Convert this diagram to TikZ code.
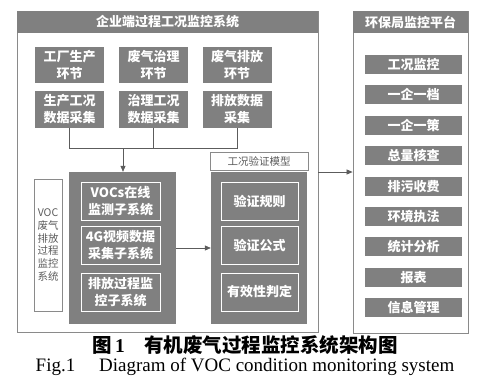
\documentclass[tikz,border=0pt]{standalone}
\usepackage{fontspec}
\setmainfont{Liberation Serif}
\newfontfamily\cjk{Noto Sans CJK SC}
\usetikzlibrary{arrows.meta}
\definecolor{bg}{HTML}{808080}
\definecolor{ln}{HTML}{8A8A8A}
\definecolor{cn}{HTML}{5C5C5C}
\begin{document}
\begin{tikzpicture}[x=1pt,y=-1pt,
  gbox/.style={fill=bg,text=white,font=\cjk\bfseries\fontsize{13}{17}\selectfont,align=center,inner sep=0pt},
  ibox/.style={gbox,draw=white,line width=1pt},
  frame/.style={draw=ln,line width=0.8pt,inner sep=0pt},
  hdr/.style={fill=bg,text=white,font=\cjk\bfseries\fontsize{13}{16}\selectfont,inner sep=0pt},
  item/.style={gbox,minimum width=97pt,minimum height=19pt},
  conn/.style={draw=cn,line width=0.7pt},
  arr/.style={conn,-{Triangle[width=5pt,length=6pt]}}
]
\useasboundingbox (0,0) rectangle (497,383);
% left system
\node[frame,minimum width=301pt,minimum height=321pt] (FL) at (167.5,171.5) {};
\node[hdr,minimum width=301pt,minimum height=22pt] (HL) at (167.5,22) {企业端过程工况监控系统};
\node[gbox,minimum width=69pt,minimum height=36pt] (a1) at (69.5,65) {工厂生产\\环节};
\node[gbox,minimum width=69pt,minimum height=36pt] (a2) at (153.5,65) {废气治理\\环节};
\node[gbox,minimum width=69pt,minimum height=36pt] (a3) at (237,65) {废气排放\\环节};
\node[gbox,minimum width=69pt,minimum height=37pt] (b1) at (69.5,109) {生产工况\\数据采集};
\node[gbox,minimum width=69pt,minimum height=37pt] (b2) at (153.5,109) {治理工况\\数据采集};
\node[gbox,minimum width=69pt,minimum height=37pt] (b3) at (237,109) {排放数据\\采集};
\coordinate (hl) at (0,148);
\coordinate (hj) at (123,148);
\node[fill=bg,minimum width=107pt,minimum height=152pt,inner sep=0pt] (L) at (122.5,248) {};
\node[ibox,minimum width=79pt,minimum height=38pt] (l1) at (120.5,201) {VOCs在线\\监测子系统};
\node[ibox,minimum width=79pt,minimum height=38pt] (l2) at (120.5,245) {4G视频数据\\采集子系统};
\node[ibox,minimum width=79pt,minimum height=38pt] (l3) at (120.5,292) {排放过程监\\控子系统};
\node[fill=bg,minimum width=96pt,minimum height=152pt,inner sep=0pt] (R) at (259,248) {};
\node[ibox,minimum width=77pt,minimum height=38pt] (r1) at (259.5,201) {验证规则};
\node[ibox,minimum width=77pt,minimum height=38pt] (r2) at (259.5,245) {验证公式};
\node[ibox,minimum width=77pt,minimum height=38pt] (r3) at (259.5,292) {有效性判定};
\node[frame,fill=white,minimum width=98pt,minimum height=18pt,text=cn,font=\cjk\fontsize{10.5}{12}\selectfont] (M) at (259,161) {工况验证模型};
\node[frame,minimum width=28pt,minimum height=132pt,align=center,text=cn,font=\cjk\fontsize{10.5}{12.7}\selectfont] (V) at (48,245) {VOC\\废气\\排放\\过程\\监控\\系统};
\draw[conn] (b1.south) -- (b1.south |- hl) -- (b3.south |- hl) -- (b3.south);
\draw[conn] (b2.south) -- (b2.south |- hl);
\draw[arr] (hj) -- (hj |- L.north);
\draw[arr] (L.east) -- (R.west);
% right platform
\node[frame,minimum width=115pt,minimum height=322pt] (FR) at (410.5,172) {};
\node[hdr,minimum width=115pt,minimum height=22pt] (HR) at (410.5,22) {环保局监控平台};
\node[item] (i1) at (413.5,64.5) {工况监控};
\node[item] (i2) at (413.5,94.9) {一企一档};
\node[item] (i3) at (413.5,125.3) {一企一策};
\node[item] (i4) at (413.5,155.7) {总量核查};
\node[item] (i5) at (413.5,186.1) {排污收费};
\node[item] (i6) at (413.5,216.5) {环境执法};
\node[item] (i7) at (413.5,246.9) {统计分析};
\node[item] (i8) at (413.5,277.3) {报表};
\node[item] (i9) at (413.5,307.7) {信息管理};
\coordinate (ay) at (0,172);
\draw[arr] (FL.east |- ay) -- (FR.west |- ay);
% caption
\node[font=\cjk\bfseries\fontsize{19.5}{21}\selectfont,inner sep=0pt] (cap1) at (245,345) {图\,{\rmfamily\bfseries 1}\quad 有机废气过程监控系统架构图};
\node[font=\fontsize{19}{21}\selectfont,inner sep=0pt] (cap2) at (245,367) {Fig.1\quad\ Diagram of VOC condition monitoring system};
\end{tikzpicture}
\end{document}
